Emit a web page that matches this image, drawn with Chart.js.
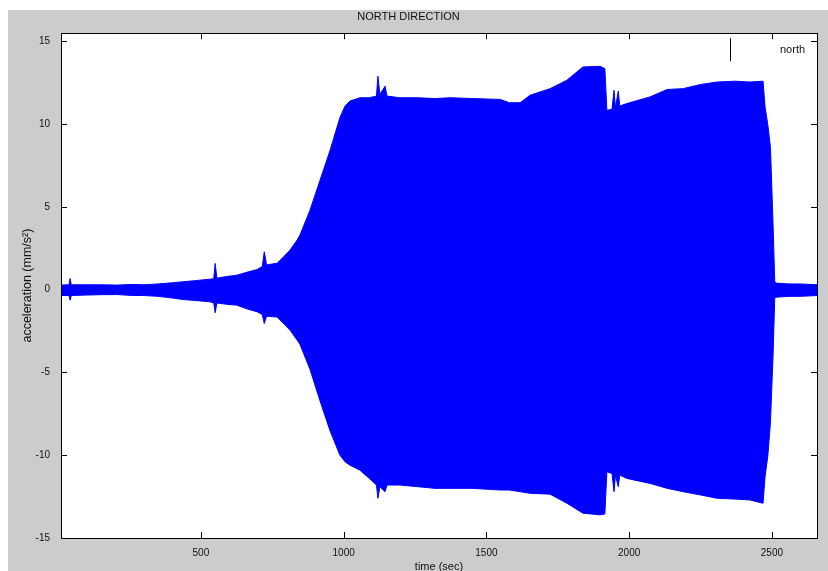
<!DOCTYPE html>
<html>
<head>
<meta charset="utf-8">
<script src="https://cdn.jsdelivr.net/npm/chart.js@4"></script>
<style>
  html, body { margin: 0; padding: 0; background: #fff; }
  canvas { display: block; }
</style>
</head>
<body>
<canvas id="north" width="828" height="571"></canvas>
<script>
// time (sec) of each envelope reading
var time = [10, 38, 42, 46, 100, 150, 206, 260, 300, 350,
    400, 437, 480, 532, 545, 550, 556, 590, 626, 660,
    697, 715, 722, 730, 767, 790, 812, 837, 847, 882,
    917, 952, 987, 1005, 1022, 1057, 1090, 1115, 1120, 1127,
    1145, 1152, 1197, 1260, 1320, 1373, 1450, 1548, 1580, 1618,
    1653, 1723, 1782, 1838, 1898, 1915, 1922, 1940, 1947, 1952,
    1962, 1967, 1992, 2073, 2133, 2189, 2250, 2308, 2370, 2423,
    2469, 2476, 2486, 2495, 2504, 2510, 2514, 2560, 2600, 2658];

// upper envelope of the acceleration signal (mm/s2)
var upper = [0.28, 0.3, 0.68, 0.3, 0.3, 0.3, 0.28, 0.32, 0.3, 0.35,
    0.42, 0.48, 0.55, 0.64, 0.66, 1.59, 0.7, 0.8, 0.88, 1.05,
    1.22, 1.4, 2.29, 1.5, 1.6, 2.0, 2.39, 3.0, 3.3, 4.8,
    6.6, 8.4, 10.4, 11.1, 11.4, 11.6, 11.6, 11.7, 12.9, 11.8,
    12.3, 11.7, 11.6, 11.6, 11.55, 11.6, 11.55, 11.5, 11.3, 11.3,
    11.75, 12.15, 12.66, 13.46, 13.5, 13.36, 10.84, 10.9, 12.05, 11.0,
    12.0, 11.1, 11.25, 11.65, 12.1, 12.15, 12.4, 12.55, 12.6, 12.55,
    12.6, 11.05, 9.94, 8.6, 4.0, 0.5, 0.4, 0.35, 0.35, 0.3];

// lower envelope
var lower = [-0.35, -0.35, -0.63, -0.35, -0.32, -0.3, -0.29, -0.35, -0.35, -0.4,
    -0.5, -0.59, -0.65, -0.73, -0.8, -1.39, -0.8, -0.88, -0.93, -1.15,
    -1.33, -1.5, -2.04, -1.6, -1.65, -2.05, -2.44, -3.04, -3.3, -4.8,
    -6.7, -8.5, -10.0, -10.4, -10.6, -10.9, -11.4, -11.8, -12.6, -11.9,
    -12.2, -11.8, -11.8, -11.9, -12.0, -12.0, -12.0, -12.1, -12.1, -12.2,
    -12.3, -12.35, -12.9, -13.5, -13.6, -13.55, -11.0, -11.1, -12.2, -11.2,
    -11.9, -11.2, -11.4, -11.7, -12.0, -12.2, -12.4, -12.6, -12.65, -12.7,
    -12.9, -11.3, -10.0, -8.0, -4.0, -0.5, -0.45, -0.4, -0.4, -0.35];

// tick labels
var xTicks = [500, 1000, 1500, 2000, 2500];
var yTicks = [-15, -10, -5, 0, 5, 10, 15];

var FONT = 'Arial, "Liberation Sans", sans-serif';

// gray matlab-like figure, inward ticks, axes box and the little legend
var matlabFrame = {
    id: 'matlabFrame',
    beforeDraw: function(chart) {
        var ctx = chart.ctx, a = chart.chartArea;
        ctx.save();
        ctx.fillStyle = '#ffffff';
        ctx.fillRect(0, 0, chart.width, chart.height);
        ctx.fillStyle = '#cccccc';
        ctx.fillRect(8, 10, chart.width - 8, chart.height - 10);
        ctx.fillStyle = '#ffffff';
        ctx.fillRect(a.left, a.top, a.right - a.left, a.bottom - a.top);
        ctx.restore();
    },
    beforeDatasetsDraw: function(chart) {
        var ctx = chart.ctx, a = chart.chartArea;
        var xs = chart.scales.x, ys = chart.scales.y;
        var len = 6;
        ctx.save();
        ctx.strokeStyle = '#000';
        ctx.lineWidth = 1;
        ctx.beginPath();
        xs.ticks.forEach(function(t) {
            var px = Math.round(xs.getPixelForValue(t.value)) + 0.5;
            ctx.moveTo(px, a.bottom); ctx.lineTo(px, a.bottom - len);
            ctx.moveTo(px, a.top); ctx.lineTo(px, a.top + len);
        });
        ys.ticks.forEach(function(t) {
            var py = Math.round(ys.getPixelForValue(t.value)) + 0.5;
            ctx.moveTo(a.left, py); ctx.lineTo(a.left + len, py);
            ctx.moveTo(a.right, py); ctx.lineTo(a.right - len, py);
        });
        ctx.stroke();
        ctx.restore();
    },
    afterDatasetsDraw: function(chart) {
        var ctx = chart.ctx, a = chart.chartArea;
        ctx.save();
        ctx.strokeStyle = '#000';
        ctx.lineWidth = 1;
        ctx.strokeRect(Math.round(a.left) + 0.5, Math.round(a.top) + 0.5,
            Math.round(a.right - a.left), Math.round(a.bottom - a.top));
        // legend
        ctx.beginPath();
        ctx.moveTo(Math.round(a.right - 87) + 0.5, a.top + 5);
        ctx.lineTo(Math.round(a.right - 87) + 0.5, a.top + 28);
        ctx.stroke();
        ctx.fillStyle = '#111';
        ctx.font = '11px ' + FONT;
        ctx.textBaseline = 'middle';
        ctx.fillText(chart.data.datasets[0].label, a.right - 37, a.top + 17);
        ctx.restore();
    }
};

var ctx = document.getElementById('north').getContext('2d');

var myChart = new Chart(ctx, {
    type: 'line',
    data: {
        datasets: [{
            label: 'north',
            data: time.map(function(t, i) { return {x: t, y: upper[i]}; }),
            borderColor: '#0000ff',
            backgroundColor: '#0000ff',
            borderWidth: 1,
            pointRadius: 0,
            fill: '+1'
        }, {
            label: 'north (lower)',
            data: time.map(function(t, i) { return {x: t, y: lower[i]}; }),
            borderColor: '#0000ff',
            borderWidth: 1,
            pointRadius: 0,
            fill: false
        }]
    },
    options: {
        responsive: false,
        animation: false,
        layout: {
            padding: {left: 0, right: 11, top: 0, bottom: 0}
        },
        scales: {
            x: {
                type: 'linear',
                min: 10,
                max: 2658,
                grid: { display: false },
                border: { display: false },
                afterBuildTicks: function(scale) {
                    scale.ticks = xTicks.map(function(v) { return {value: v}; });
                },
                ticks: {
                    autoSkip: false,
                    maxRotation: 0,
                    padding: 1,
                    color: '#111',
                    font: { family: FONT, size: 10 },
                    callback: function(v) { return String(v); }
                },
                title: {
                    display: true,
                    text: 'time (sec)',
                    color: '#111',
                    padding: {top: 0, bottom: -3},
                    font: { family: FONT, size: 11 }
                },
                afterFit: function(scale) { scale.height = 33; }
            },
            y: {
                min: -15,
                max: 15.5,
                grid: { display: false },
                border: { display: false },
                afterBuildTicks: function(scale) {
                    scale.ticks = yTicks.map(function(v) { return {value: v}; });
                },
                ticks: {
                    padding: 3,
                    color: '#111',
                    font: { family: FONT, size: 10 },
                    callback: function(v) { return String(v); }
                },
                title: {
                    display: true,
                    text: 'acceleration (mm/s²)',
                    color: '#111',
                    padding: {top: 20, bottom: 0},
                    font: { family: FONT, size: 12.5 }
                },
                afterFit: function(scale) { scale.width = 61; }
            }
        },
        plugins: {
            legend: { display: false },
            tooltip: { enabled: false },
            title: {
                display: true,
                text: 'NORTH DIRECTION',
                color: '#111',
                padding: {top: 10, bottom: 10},
                font: { family: FONT, size: 11, weight: 'normal' }
            }
        }
    },
    plugins: [matlabFrame]
});
</script>
</body>
</html>
